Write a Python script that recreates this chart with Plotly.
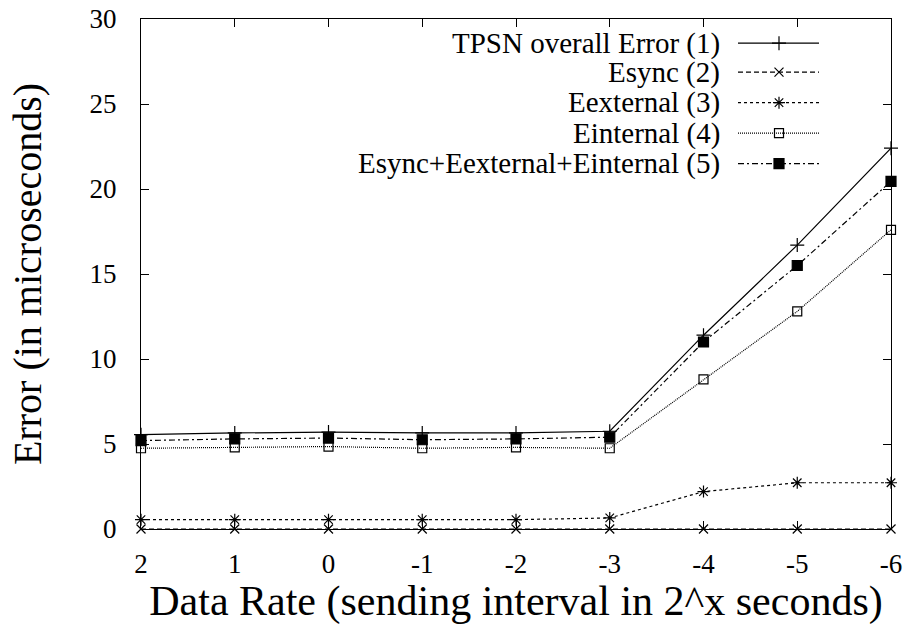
import plotly.graph_objects as go

# ---- data ----
x_rate = [2, 1, 0, -1, -2, -3, -4, -5, -6]
tpsn_overall = [5.55, 5.65, 5.7, 5.65, 5.65, 5.75, 11.4, 16.7, 22.4]
esync = [0, 0, 0, 0, 0, 0, 0, 0, 0]
eexternal = [0.55, 0.55, 0.55, 0.55, 0.55, 0.65, 2.2, 2.72, 2.72]
einternal = [4.75, 4.8, 4.85, 4.75, 4.8, 4.75, 8.8, 12.8, 17.6]
esum = [5.2, 5.3, 5.35, 5.25, 5.3, 5.4, 11.0, 15.5, 20.45]

series_names = ["TPSN overall Error (1)", "Esync (2)", "Eexternal (3)",
                "Einternal (4)", "Esync+Eexternal+Einternal (5)"]
series_values = [tpsn_overall, esync, eexternal, einternal, esum]

y_ticks = [0, 5, 10, 15, 20, 25, 30]

# ---- styles ----
FONT = "Liberation Serif"
styles = [
    dict(dash="solid", symbol="cross-thin-open", size=10),
    dict(dash="5px,3px", symbol="x-thin-open", size=9),
    dict(dash="3px,3px", symbol="asterisk-open", size=10),
    dict(dash="1px,1px", symbol="square-open", size=9),
    dict(dash="6px,3px,2px,3px", symbol="square", size=10),
]

fig = go.Figure()
for name, vals, st in zip(series_names, series_values, styles):
    fig.add_trace(go.Scatter(
        x=x_rate, y=vals, mode="lines+markers", name=name, showlegend=False,
        line=dict(color="black", width=1.2, dash=st["dash"]),
        marker=dict(symbol=st["symbol"], size=st["size"], color="black",
                    line=dict(color="black", width=1.2)),
        cliponaxis=False,
    ))

# ---- gnuplot-style legend (text on the left, sample on the right) ----
L, R, T, B = 141, 891, 19.3, 529.3
W, H = R - L, B - T
row_px = [43.5, 72.5, 103, 133.5, 164]
text_right_px = 722
samp_x0, samp_x1, samp_xm = 738, 819, 779

def fx(px):
    return (px - L) / W

def fy(py):
    return (B - py) / H

for i, (name, st) in enumerate(zip(series_names, styles)):
    yy = fy(row_px[i])
    fig.add_annotation(x=fx(text_right_px), y=yy, xref="paper", yref="paper",
                       text=name, showarrow=False, xanchor="right", yanchor="middle",
                       font=dict(family=FONT, size=29, color="black"))
    fig.add_trace(go.Scatter(
        x=[fx(samp_x0), fx(samp_xm), fx(samp_x1)], y=[yy, yy, yy],
        xaxis="x2", yaxis="y2", mode="lines", showlegend=False, hoverinfo="skip",
        line=dict(color="black", width=1.2, dash=st["dash"])))
    fig.add_trace(go.Scatter(
        x=[fx(samp_xm)], y=[yy], xaxis="x2", yaxis="y2", mode="markers",
        showlegend=False, hoverinfo="skip",
        marker=dict(symbol=st["symbol"], size=st["size"], color="black",
                    line=dict(color="black", width=1.2))))

# y axis title
fig.add_annotation(x=fx(27), y=0.5, xref="paper", yref="paper",
                   text="Error (in microseconds)", textangle=-90, showarrow=False,
                   xanchor="center", yanchor="middle",
                   font=dict(family=FONT, size=40, color="black"))

axis_common = dict(showgrid=False, zeroline=False, showline=True, linecolor="black",
                   linewidth=1.2, mirror="ticks", ticks="inside", ticklen=8,
                   tickcolor="black", tickwidth=1.2, automargin=False,
                   tickfont=dict(family=FONT, size=27, color="black"))

fig.update_layout(
    width=905, height=625,
    margin=dict(l=L, r=905 - R, t=T, b=625 - B, autoexpand=False),
    paper_bgcolor="white", plot_bgcolor="white",
    xaxis=dict(range=[2, -6], tickvals=x_rate, ticktext=[str(v) for v in x_rate],
               title=dict(text="Data Rate (sending interval in 2^x seconds)",
                          font=dict(family=FONT, size=42, color="black"), standoff=12),
               ticklabelstandoff=10, **axis_common),
    yaxis=dict(range=[0, 30], tickvals=y_ticks, ticklabelstandoff=18, **axis_common),
    xaxis2=dict(range=[0, 1], overlaying="x", visible=False, fixedrange=True),
    yaxis2=dict(range=[0, 1], overlaying="y", visible=False, fixedrange=True),
    showlegend=False,
)

fig.write_html("out.html")
